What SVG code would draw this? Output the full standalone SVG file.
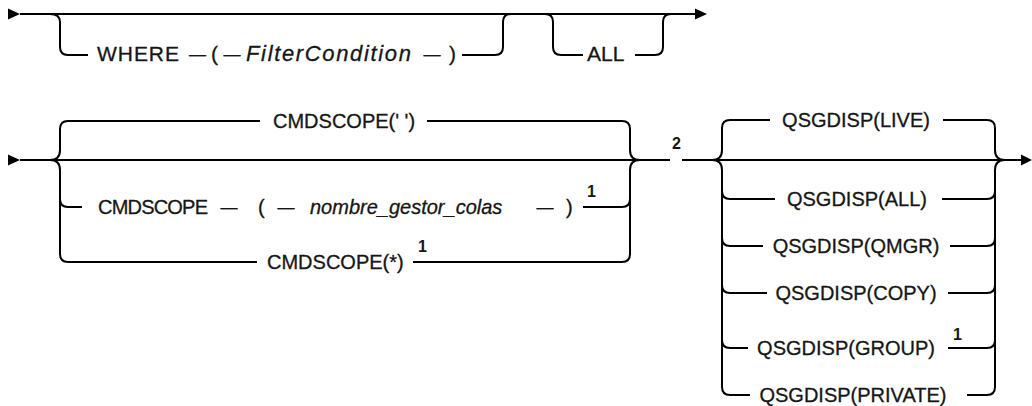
<svg xmlns="http://www.w3.org/2000/svg" width="1032" height="406" viewBox="0 0 1032 406">
<style>
.ln{fill:none;stroke:#000;stroke-width:2}
.ar{fill:#000;stroke:none}
text{font-family:"Liberation Sans",Arial,sans-serif;font-size:20px;fill:#161616;stroke:#161616;stroke-width:0.3}
.v{font-style:italic}
.m{text-anchor:middle}
.d{text-anchor:middle;font-size:17px}
.n{font-size:16px;font-weight:bold;stroke-width:0}
.b{font-size:21px}
</style>
<rect width="1032" height="406" fill="#fff"/>
<g id="connectors">
  <path class="ar" d="M8,8.5 L20,14 L8,19.5 Z"/>
  <path class="ln" d="M20,14 H696"/>
  <path class="ar" d="M695,8.5 L707,14 L695,19.5 Z"/>
  <path class="ln" d="M50,14 Q60,14 60,22 V47 Q60,55 68,55 H88"/>
  <path class="ln" d="M462,55 H495 Q503,55 503,47 V22 Q503,14 511,14"/>
  <path class="ln" d="M545,14 Q553,14 553,22 V47 Q553,55 561,55 H583"/>
  <path class="ln" d="M635,55 H655 Q663,55 663,47 V22 Q663,14 671,14"/>
  <path class="ar" d="M8,154.5 L20,160 L8,165.5 Z"/>
  <path class="ln" d="M20,160 H670"/>
  <path class="ln" d="M682,160 H1022"/>
  <path class="ar" d="M1021,154.5 L1032,160 L1021,165.5 Z"/>
  <path class="ln" d="M50,160 Q60,160 60,150 V129 Q60,121 68,121 H260"/>
  <path class="ln" d="M50,160 Q60,160 60,170 V254 Q60,262 68,262 H257"/>
  <path class="ln" d="M60,199 Q60,207 68,207 H82"/>
  <path class="ln" d="M427,121 H622 Q630,121 630,129 V150 Q630,160 640,160"/>
  <path class="ln" d="M413,262 H622 Q630,262 630,254 V170 Q630,160 640,160"/>
  <path class="ln" d="M583,207 H622 Q630,207 630,199"/>
  <path class="ln" d="M712,160 Q722,160 722,150 V128 Q722,120 730,120 H770"/>
  <path class="ln" d="M712,160 Q722,160 722,170 V387 Q722,395 730,395 H750"/>
  <path class="ln" d="M722,191 Q722,199 730,199 H775"/>
  <path class="ln" d="M722,238 Q722,246 730,246 H763"/>
  <path class="ln" d="M722,285 Q722,293 730,293 H767"/>
  <path class="ln" d="M722,340 Q722,348 730,348 H748"/>
  <path class="ln" d="M943,120 H987 Q995,120 995,128 V150 Q995,160 1005,160"/>
  <path class="ln" d="M967,395 H987 Q995,395 995,387 V170 Q995,160 1005,160"/>
  <path class="ln" d="M942,199 H987 Q995,199 995,191"/>
  <path class="ln" d="M950,246 H987 Q995,246 995,238"/>
  <path class="ln" d="M948,293 H987 Q995,293 995,285"/>
  <path class="ln" d="M948,348 H987 Q995,348 995,340"/>
</g>
<g id="where">
  <text class="b" x="97" y="61" textLength="82">WHERE</text>
  <text class="d" x="197.5" y="60">—</text>
  <text class="b" x="211" y="61">(</text>
  <text class="d" x="232" y="60">—</text>
  <text class="v" x="246" y="61" style="font-size:22px" textLength="165">FilterCondition</text>
  <text class="d" x="432" y="60">—</text>
  <text class="b" x="449" y="61">)</text>
</g>
<g id="all">
  <text class="b" x="587" y="61">ALL</text>
</g>
<g id="cmdscope-blank">
  <text x="273" y="128">CMDSCOPE(' ')</text>
</g>
<g id="cmdscope-qmgr">
  <text x="98" y="214" textLength="110">CMDSCOPE</text>
  <text class="d" x="229" y="213">—</text>
  <text x="258" y="214">(</text>
  <text class="d" x="286" y="213">—</text>
  <text class="v" x="310" y="214">nombre_gestor_colas</text>
  <text class="d" x="545" y="213">—</text>
  <text x="566" y="214">)</text>
  <text class="n" x="587" y="197">1</text>
</g>
<g id="cmdscope-star">
  <text x="267" y="269">CMDSCOPE(*)</text>
  <text class="n" x="418" y="252">1</text>
</g>
<g id="note2">
  <text class="n" x="672" y="149">2</text>
</g>
<g id="qsg-live"><text class="m" x="856" y="127">QSGDISP(LIVE)</text></g>
<g id="qsg-all"><text class="m" x="857" y="206">QSGDISP(ALL)</text></g>
<g id="qsg-qmgr"><text class="m" x="856" y="253">QSGDISP(QMGR)</text></g>
<g id="qsg-copy"><text class="m" x="856" y="300">QSGDISP(COPY)</text></g>
<g id="qsg-group"><text class="m" x="846" y="355">QSGDISP(GROUP)</text><text class="n" x="953" y="340">1</text></g>
<g id="qsg-private"><text class="m" x="853" y="402">QSGDISP(PRIVATE)</text></g>
</svg>
